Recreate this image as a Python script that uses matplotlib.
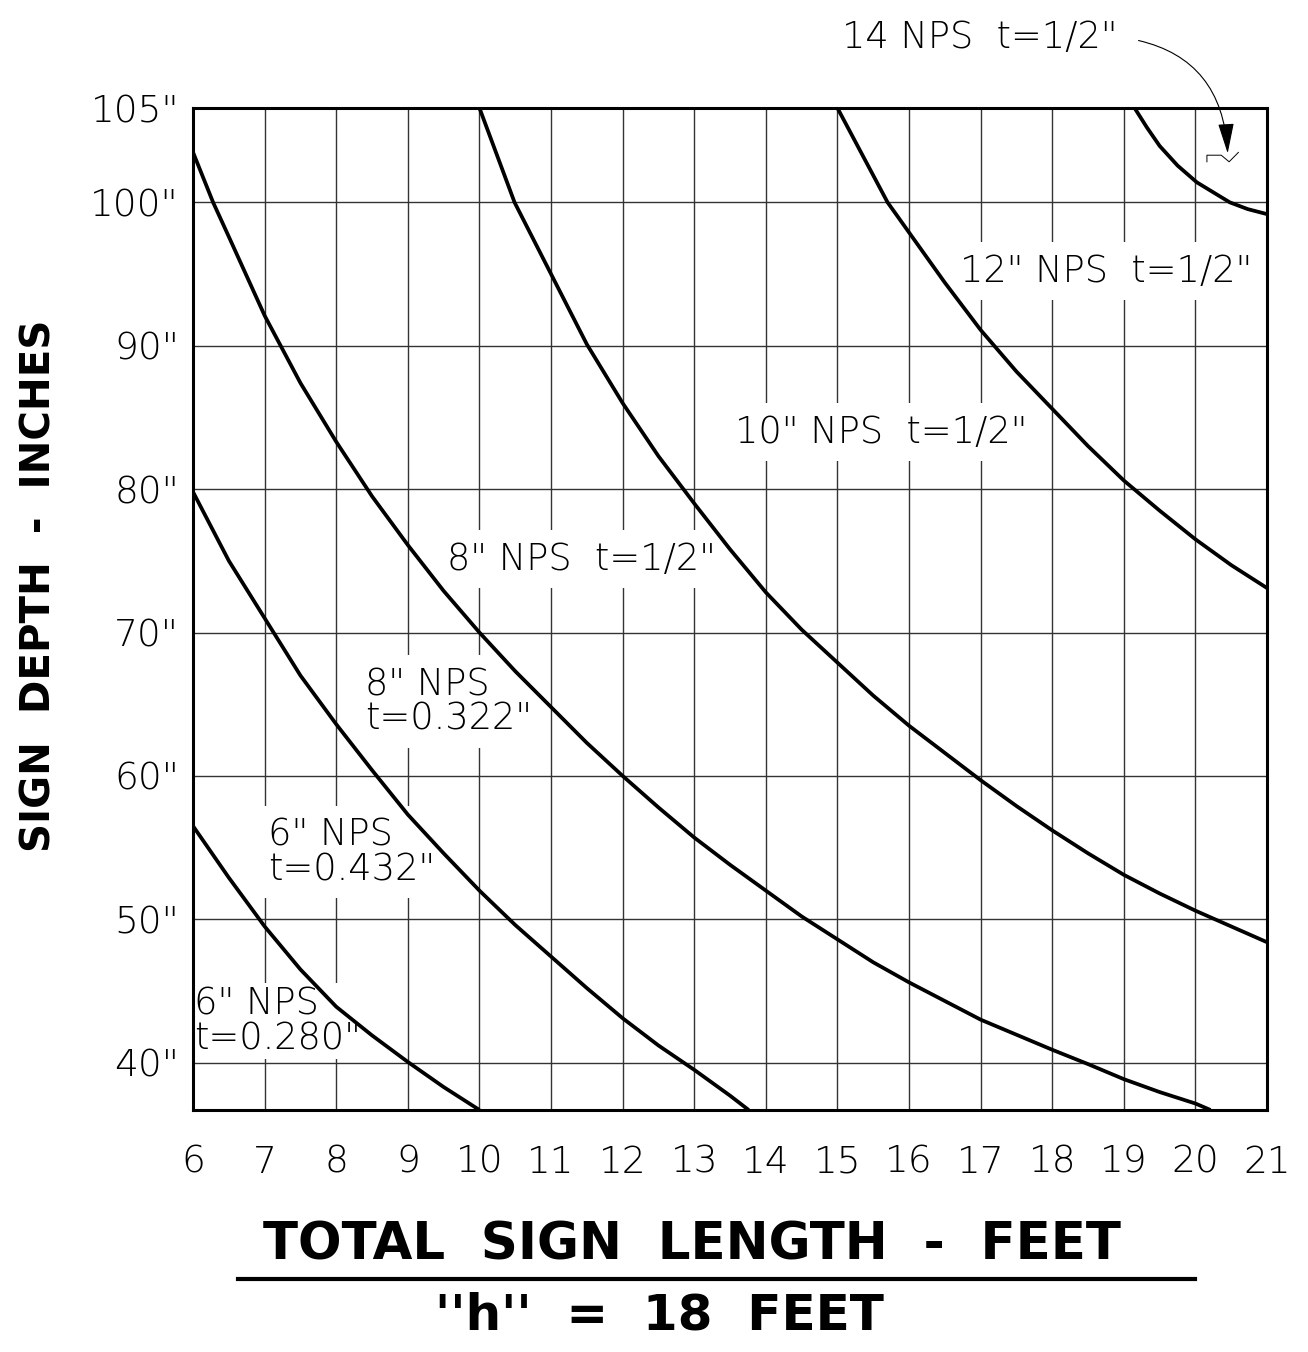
import numpy as np
import matplotlib.pyplot as plt

# ============================================================================
# DATOS  x = longitud total (ft), y = profundidad (in)
# ============================================================================
x_6_280 = [6, 6.5, 7, 7.5, 8, 8.5, 9, 9.5, 10]
y_6_280 = [56.5, 52.9, 49.5, 46.5, 43.9, 41.9, 40.05, 38.3, 36.7]

x_6_432 = [6, 6.5, 7, 7.5, 8, 8.5, 9, 9.5, 10, 10.5, 11, 11.5, 12, 12.5, 13, 13.5, 13.76]
y_6_432 = [79.8, 75.0, 71.0, 67.0, 63.6, 60.4, 57.3, 54.6, 52.0, 49.6, 47.4, 45.2, 43.1,
           41.2, 39.5, 37.7, 36.7]

x_8_322 = [6, 6.28, 6.5, 7, 7.5, 8, 8.5, 9, 9.5, 10, 10.5, 11, 11.5, 12, 12.5, 13, 13.5,
           14, 14.5, 15, 15.5, 16, 16.5, 17, 17.5, 18, 18.5, 19, 19.5, 20, 20.21]
y_8_322 = [102.65, 100, 97.6, 92.1, 87.4, 83.3, 79.5, 76.1, 72.9, 70.0, 67.3, 64.8, 62.3,
           60.0, 57.8, 55.7, 53.8, 52.0, 50.2, 48.6, 47.0, 45.6, 44.3, 43.0, 41.95, 40.9,
           39.9, 38.85, 37.95, 37.15, 36.7]

x_8_500 = [10, 10.49, 11, 11.5, 12, 12.5, 13, 13.5, 14, 14.5, 15, 15.5, 16, 16.5, 17,
           17.5, 18, 18.5, 19, 19.5, 20, 20.5, 21]
y_8_500 = [105, 100, 95.0, 90.1, 86.0, 82.3, 79.0, 75.8, 72.8, 70.2, 67.9, 65.6, 63.5,
           61.6, 59.7, 57.9, 56.2, 54.6, 53.1, 51.8, 50.6, 49.5, 48.4]

x_10_500 = [15, 15.7, 16, 16.5, 17, 17.5, 18, 18.5, 19, 19.5, 20, 20.5, 21]
y_10_500 = [105, 100, 97.9, 94.4, 91.1, 88.2, 85.6, 83.0, 80.6, 78.5, 76.5, 74.7, 73.1]

x_12_500 = [19.15, 19.32, 19.5, 19.75, 20.02, 20.48, 20.73, 21]
y_12_500 = [105, 103.98, 102.99, 101.95, 101.06, 100.0, 99.53, 99.18]

curves = [(x_6_280, y_6_280), (x_6_432, y_6_432), (x_8_322, y_8_322),
          (x_8_500, y_8_500), (x_10_500, y_10_500), (x_12_500, y_12_500)]

x_ticks = list(range(6, 22))
y_ticks = [40, 50, 60, 70, 80, 90, 100, 105]

# la franja 100-105 esta dibujada mas ancha que el resto en el original
K_TOP = 1.316

def fwd(y):
    y = np.asarray(y, dtype=float)
    return np.where(y <= 100, y, 100 + (y - 100) * K_TOP)

def inv(y):
    y = np.asarray(y, dtype=float)
    return np.where(y <= 100, y, 100 + (y - 100) / K_TOP)

plt.rcParams['font.family'] = 'DejaVu Sans'

fig = plt.figure(figsize=(13.08, 13.52), dpi=100)
ax = fig.add_axes([0.1476, 0.1790, 0.8211, 0.7411])
ax.set_yscale('function', functions=(fwd, inv))
ax.set_xlim(6, 21)
ax.set_ylim(36.7, 105)

for xs, ys in curves:
    ax.plot(xs, ys, color='black', lw=2.7, zorder=4,
            solid_joinstyle='round', solid_capstyle='butt')

ax.set_xticks(x_ticks)
ax.set_xticklabels([str(v) for v in x_ticks])
ax.set_yticks(y_ticks)
ax.set_yticklabels([f'{v}"' for v in y_ticks])
ax.tick_params(axis='x', length=0, pad=25, labelsize=27)
ax.tick_params(axis='y', length=0, pad=10, labelsize=27)
for lab in ax.get_xticklabels() + ax.get_yticklabels():
    lab.set_fontweight('light')

ax.grid(True, color='#333333', lw=1.0)
ax.set_axisbelow(True)
for sp in ax.spines.values():
    sp.set_linewidth(2.2)
    sp.set_zorder(6)

# etiquetas de cada curva
labels = [
    ('12" NPS  t=1/2"', 16.71, 95.2, 0.3),
    ('10" NPS  t=1/2"', 13.57, 84.0, 0.3),
    ('8" NPS  t=1/2"', 9.54, 75.1, 0.3),
    ('8" NPS\nt=0.322"', 8.40, 65.2, 0.3),
    ('6" NPS\nt=0.432"', 7.05, 54.7, 0.3),
    ('6" NPS\nt=0.280"', 6.02, 42.9, 0.08),
]
for txt, lx, ly, pad in labels:
    ax.text(lx, ly, txt, fontsize=26.5, fontweight='light', ha='left', va='center',
            linespacing=0.95, zorder=3,
            bbox=dict(boxstyle=f'square,pad={pad}', fc='white', ec='none'))

# etiqueta 14 NPS con flecha curva
ax.annotate('14 NPS  t=1/2"', xy=(20.45, 102.6), xycoords='data',
            xytext=(1118 / 1308, 1 - 37 / 1352), textcoords='figure fraction',
            ha='right', va='center', fontsize=26.5, fontweight='light',
            annotation_clip=False,
            arrowprops=dict(arrowstyle='-|>,head_length=1.9,head_width=0.5',
                            connectionstyle='arc3,rad=-0.42', color='black',
                            lw=0.8, shrinkA=13, shrinkB=0, relpos=(1, 0.5),
                            mutation_scale=10))
# simbolo de corte bajo la flecha
ax.plot([20.16, 20.16, 20.36, 20.47, 20.6], [102.15, 102.5, 102.5, 102.15, 102.65],
        color='black', lw=0.7, zorder=5, clip_on=False)

# titulos de ejes
fig.text(40 / 1308, 1 - 586 / 1352, 'SIGN  DEPTH  -  INCHES', rotation=90,
         ha='center', va='center', fontsize=29, fontweight='bold')
fig.text(692 / 1308, 1 - 1245 / 1352, 'TOTAL  SIGN  LENGTH  -  FEET',
         ha='center', va='center', fontsize=37, fontweight='bold')
fig.add_artist(plt.Line2D([238 / 1308, 1195 / 1308], [1 - 1279 / 1352] * 2,
                          color='black', lw=3.0))
fig.text(659 / 1308, 1 - 1316 / 1352, "''h''  =  18  FEET",
         ha='center', va='center', fontsize=36, fontweight='bold')

plt.savefig('out.png', dpi=100)
